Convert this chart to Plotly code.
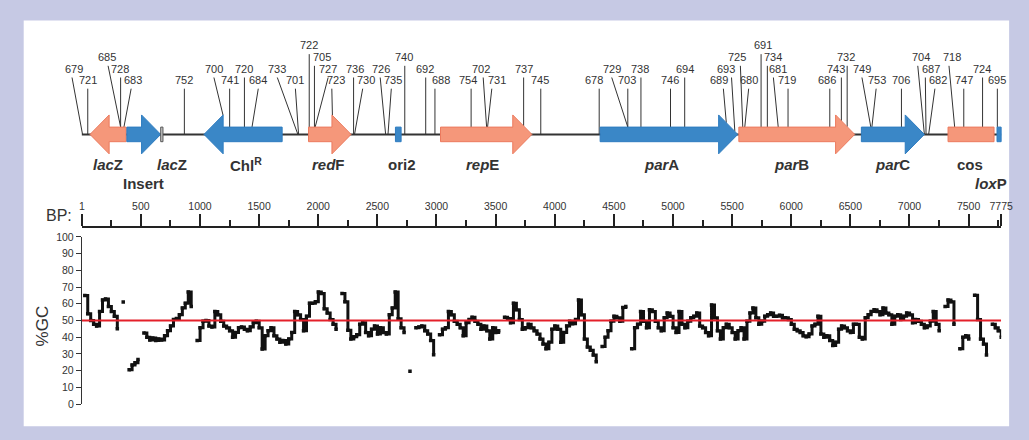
import plotly.graph_objects as go

# ---------------- data ----------------
GENE_NAMES = ["<i>lac</i>Z", "Insert", "<i>lac</i>Z", "Chl<sup>R</sup>", "<i>red</i>F", "ori2",
              "<i>rep</i>E", "<i>par</i>A", "<i>par</i>B", "<i>par</i>C", "cos", "<i>lox</i>P"]
GENE_START = [70, 382, 668, 1034, 1918, 2653, 3034, 4384, 5557, 6593, 7326, 7740]
GENE_END = [376, 668, 687, 1695, 2278, 2701, 3807, 5548, 6537, 7126, 7715, 7775]
GENE_DIR = [-1, 1, 0, -1, 1, 0, 1, 1, 1, 1, 0, 0]
GENE_KIND = ["salmon", "blue", "gray", "blue", "salmon", "blue",
             "salmon", "blue", "salmon", "blue", "salmon", "blue"]
GENE_LABEL_BP = [223, 526, 765, 1390, 2084, 2709, 3390, 4901, 6001, 6859, 7515, 7693]
GENE_LABEL_ROW = [0, 1, 0, 0, 0, 0, 0, 0, 0, 0, 0, 1]

MARKER_ID = ["679", "721", "685", "728", "683", "752", "700", "741", "720", "684", "733", "701",
             "722", "705", "727", "723", "736", "730", "726", "735", "740", "692", "688", "754",
             "702", "731", "737", "745", "678", "729", "703", "738", "746", "694", "689", "693",
             "725", "680", "691", "734", "681", "719", "686", "743", "732", "749", "753", "706",
             "704", "687", "682", "718", "747", "724", "695"]
MARKER_ROW = [3, 4, 2, 3, 4, 4, 3, 4, 3, 4, 3, 4,
              1, 2, 3, 4, 3, 4, 3, 4, 2, 3, 4, 4,
              3, 4, 3, 4, 4, 3, 4, 3, 4, 3, 4, 3,
              2, 4, 1, 2, 3, 4, 4, 3, 2, 3, 4, 4,
              2, 3, 4, 2, 4, 3, 4]
MARKER_LABEL_BP = [-68, 57, 218, 320, 432, 868, 1118, 1251, 1376, 1493, 1654, 1807,
                   1924, 2029, 2084, 2154, 2307, 2404, 2529, 2634, 2724, 2904, 3034, 3265,
                   3376, 3515, 3737, 3876, 4334, 4487, 4612, 4724, 4974, 5099, 5390, 5445,
                   5543, 5645, 5765, 5843, 5884, 5968, 6301, 6382, 6459, 6598, 6729, 6932,
                   7099, 7182, 7237, 7362, 7459, 7612, 7737]
MARKER_TOP_BP = [-82, 51, 223, 329, 418, 868, 1118, 1251, 1376, 1493, 1654, 1807,
                 1924, 1968, 2084, 2115, 2299, 2376, 2524, 2618, 2732, 2909, 2987, 3293,
                 3395, 3468, 3737, 3882, 4376, 4482, 4618, 4729, 4979, 5099, 5426, 5495,
                 5570, 5640, 5745, 5798, 5849, 5973, 6326, 6424, 6473, 6598, 6718, 6932,
                 7070, 7134, 7215, 7334, 7459, 7618, 7743]
MARKER_SITE_BP = [7, 51, 329, 329, 357, 868, 1195, 1251, 1376, 1440, 1828, 1834,
                  1924, 1968, 1974, 2120, 2299, 2307, 2570, 2590, 2732, 2909, 2987, 3293,
                  3424, 3432, 3737, 3882, 4376, 4618, 4618, 4729, 4979, 5099, 5451, 5523,
                  5590, 5607, 5745, 5798, 5890, 5973, 6326, 6424, 6473, 6673, 6682, 6932,
                  7126, 7140, 7162, 7382, 7459, 7618, 7743]

BP_TICKS = [1, 500, 1000, 1500, 2000, 2500, 3000, 3500, 4000, 4500, 5000, 5500, 6000,
            6500, 7000, 7500, 7775]
BP_MINOR = [250, 750, 1250, 1750, 2250, 2750, 3250, 3750, 4250, 4750, 5250, 5750, 6250,
            6750, 7250, 7750]
GC_TICKS = [0, 10, 20, 30, 40, 50, 60, 70, 80, 90, 100]
GC_MEAN = 50

GC_START = 1
GC_STEP = 25
N = None
GC_VALUES = [
    N, 65, 54, 50, 47.7, 46.7, 55.4, 62.2, 62.8, 58.3, 55.4, 52.5, 45, N, 61, N,
    20.5, 23.4, 24.8, 26.7, N, 42.5, 40, 38.4, 39.5, 38, 39, 38.4, 40.9, 43.8, 46.7, 50.6,
    51.2, 53.5, 57.4, 60.3, 67, 58.3, N, 38, 45.7, 49.6, 50, 46.7, 46.1, 55.4, 53.5, 49.6,
    46.7, 45.7, 43.8, 40, 42.8, 45.7, 46.1, 44.8, 43.8, 46.1, 48.6, 49.6, 45.7, 33, 40.9, 43.8,
    45.7, 40.9, 39, 37, 38, 36, 39, 42.8, 55.4, 53.5, 50.6, 43.8, 52.5, 60.3, 60.3, 61.2,
    67, 66.1, 57, 54.5, 50.6, 47.7, 44.8, N, 66.1, 61.2, 44.2, 39, 40.3, 41.5, 47.7, 48.6,
    42.8, 40.9, 44.8, 46.7, 41.9, 45.7, 42.8, 41.9, 53.5, 57.4, 67, 51, 45.7, 42.8, N, 19.6,
    N, 45.7, 46.1, 46.7, 43.8, 41.9, 38, 29.5, N, 41.5, 44.8, 45.7, 55.4, 53.5, 49.6, 47.7,
    45.7, 40.9, 48.6, 50.6, 51.9, 49.6, 47.7, 44.8, 46.7, 43.8, 39, 45.7, 42.8, 43.8, N, 51.9,
    51.2, 48.6, 60.3, 56.4, 50.6, 44.8, 45.7, 47.7, 45.7, 43.8, 41.9, 39, 36, 33.1, 37, 44.8,
    46.7, 44.8, 37, 42.8, 46.7, 49.6, 48.1, 50.6, 62.2, 53.5, 39, 34.1, 32.2, 29.3, 25.4, N,
    34.5, 40, 43.8, 49.6, 52.5, 51.6, 49.6, 57.8, 58.3, N, 33.1, 45.7, 47.7, 55.4, 49.6, 45.7,
    56.4, 55.4, 49.6, 45.7, 43.8, 51.6, 54.5, 52.5, 45.7, 42.8, 55.4, 47.7, 45.7, 49.6, 51.6, 52.5,
    54.5, 46.7, 45.7, 42.8, 40.9, 59.3, 51.6, 43.8, 39, 45.7, 47.7, 45.7, 42.8, 39, 43.8, 45.7,
    39, 49.6, 54.5, 57.4, 51.6, 47.7, 49.6, 52.5, 53.5, 54.5, 52.5, 52.5, 53.1, 51.6, 51.6, 50.6,
    47.7, 44.8, 43.8, 42.8, 40.9, 40.3, 41.9, 46.7, 47.7, 52.5, 41.9, 40, 40.9, 38, 35.1, 37,
    44.8, 46.7, 45.7, 43.8, 42.8, 47.7, 47.7, 40, 39, 51.6, 53.5, 55.4, 56.4, 55.4, 53.5, 57.4,
    54.5, 53.5, 47.7, 52.5, 53.5, 50.6, 52.5, 54.5, 53.5, 48.6, 50.6, 49.6, 47.7, 45.7, 46.7, 49.6,
    55.4, 47.7, 43.8, N, 58.3, 62.2, 61.2, 47.7, N, 33.1, 40, 40.9, 39, N, 65.1, 50.6,
    39, 36, 29.3, N, 47.7, 45.7, 43.8, 40,
]
GC_BP = [GC_START + GC_STEP * i for i in range(len(GC_VALUES))]

# ---------------- style ----------------
FONT = "Liberation Sans, Arial, Helvetica, sans-serif"
TXT = "#333333"
W, H = 1029, 440
PX0, PX1 = 80.0, 1012.9            # pixel positions of bp 1 and bp 7775
BP_MIN, BP_MAX = 1, 7775
K = (PX1 - PX0) / (BP_MAX - BP_MIN)
X2_RANGE = [BP_MIN - PX0 / K, BP_MIN + (W - PX0) / K]

MAP_Y = 132.0      # backbone (pixel y in map axis)
BODY = 7.5
HEAD = 20.0
HEAD_LEN = 162
ROW_Y = {1: 44.0, 2: 56.0, 3: 68.0, 4: 79.5}
TEXT_NUDGE = -3.5  # annotation box centre vs. visual digit centre
FILL = {"salmon": "#f5977a", "blue": "#3a87c7", "gray": "#c9c9c9"}
EDGE = {"salmon": "#ec7a5e", "blue": "#2e7cc0", "gray": "#555555"}

fig = go.Figure()

# ---- GC content panel ----
fig.add_trace(go.Scatter(
    x=GC_BP, y=GC_VALUES, mode="lines+markers", xaxis="x", yaxis="y",
    line=dict(color="#111111", width=3, shape="hv"),
    marker=dict(symbol="square", size=3.5, color="#111111"),
    connectgaps=False, hoverinfo="skip", showlegend=False))
fig.add_trace(go.Scatter(
    x=[BP_MIN, BP_MAX], y=[GC_MEAN, GC_MEAN], mode="lines", xaxis="x", yaxis="y",
    line=dict(color="#e4202a", width=2), hoverinfo="skip", showlegend=False))

# ---- gene map ----
fig.add_trace(go.Scatter(
    x=[BP_MIN, BP_MAX], y=[MAP_Y, MAP_Y], mode="lines", xaxis="x2", yaxis="y2",
    line=dict(color="#333333", width=2), hoverinfo="skip", showlegend=False))


def top_at(bp):
    """pixel y of the top edge of the map drawing at position bp"""
    for s, e, d in zip(GENE_START, GENE_END, GENE_DIR):
        if s <= bp <= e:
            hl = min(HEAD_LEN, e - s)
            if d == 1 and bp > e - hl:
                return MAP_Y - HEAD * (e - bp) / hl
            if d == -1 and bp < s + hl:
                return MAP_Y - HEAD * (bp - s) / hl
            return MAP_Y - BODY
    return MAP_Y


lx, ly = [], []
for row, top, site in zip(MARKER_ROW, MARKER_TOP_BP, MARKER_SITE_BP):
    lx += [top, site, None]
    ly += [ROW_Y[row] + 5.5, top_at(site), None]
fig.add_trace(go.Scatter(
    x=lx, y=ly, mode="lines", xaxis="x2", yaxis="y2",
    line=dict(color="#333333", width=1), hoverinfo="skip", showlegend=False))

for s, e, d, kind in zip(GENE_START, GENE_END, GENE_DIR, GENE_KIND):
    hl = min(HEAD_LEN, e - s)
    if d == 1:
        xs = [s, e - hl, e - hl, e, e - hl, e - hl, s, s]
        ys = [MAP_Y - BODY, MAP_Y - BODY, MAP_Y - HEAD, MAP_Y, MAP_Y + HEAD, MAP_Y + BODY,
              MAP_Y + BODY, MAP_Y - BODY]
    elif d == -1:
        xs = [e, s + hl, s + hl, s, s + hl, s + hl, e, e]
        ys = [MAP_Y - BODY, MAP_Y - BODY, MAP_Y - HEAD, MAP_Y, MAP_Y + HEAD, MAP_Y + BODY,
              MAP_Y + BODY, MAP_Y - BODY]
    else:
        xs = [s, e, e, s, s]
        ys = [MAP_Y - BODY, MAP_Y - BODY, MAP_Y + BODY, MAP_Y + BODY, MAP_Y - BODY]
    fig.add_trace(go.Scatter(
        x=xs, y=ys, mode="lines", fill="toself", fillcolor=FILL[kind], xaxis="x2", yaxis="y2",
        line=dict(color=EDGE[kind], width=1), hoverinfo="skip", showlegend=False))

annotations = []
for name, bp, row in zip(GENE_NAMES, GENE_LABEL_BP, GENE_LABEL_ROW):
    annotations.append(dict(
        x=bp, y=163 + 19 * row, xref="x2", yref="y2", text="<b>" + name + "</b>",
        showarrow=False, xanchor="center", yanchor="middle",
        font=dict(family=FONT, size=15, color=TXT)))
for mid, row, bp in zip(MARKER_ID, MARKER_ROW, MARKER_LABEL_BP):
    annotations.append(dict(
        x=bp, y=ROW_Y[row] + TEXT_NUDGE, xref="x2", yref="y2", text=mid, showarrow=False,
        xanchor="center", yanchor="middle", font=dict(family=FONT, size=11, color=TXT)))
annotations.append(dict(
    x=57 / W, y=1 - 215 / H, xref="paper", yref="paper", text="BP:", showarrow=False,
    xanchor="center", yanchor="middle", font=dict(family=FONT, size=16, color=TXT)))
annotations.append(dict(
    x=40 / W, y=1 - 329 / H, xref="paper", yref="paper", text="%GC", showarrow=False,
    textangle=-90, xanchor="center", yanchor="middle",
    font=dict(family=FONT, size=17, color=TXT)))

fig.update_layout(
    width=W, height=H, autosize=False,
    margin=dict(l=0, r=0, t=0, b=0),
    paper_bgcolor="#c6c9e4", plot_bgcolor="rgba(0,0,0,0)",
    showlegend=False,
    font=dict(family=FONT, color=TXT),
    shapes=[dict(type="rect", xref="paper", yref="paper", x0=21 / W, x1=1021 / W,
                 y0=1 - 432 / H, y1=1 - 15 / H, fillcolor="white", line=dict(width=0),
                 layer="below")],
    annotations=annotations,
    xaxis=dict(
        domain=[PX0 / W, PX1 / W], range=[BP_MIN, BP_MAX], anchor="free",
        position=1 - 227.7 / H, side="top", showline=True, linecolor="#222222", linewidth=2,
        ticks="outside", ticklen=12, tickwidth=2, tickcolor="#222222",
        tickvals=BP_TICKS, ticktext=[str(v) for v in BP_TICKS],
        tickfont=dict(family=FONT, size=10.5, color=TXT),
        minor=dict(tickvals=BP_MINOR, ticks="outside", ticklen=6, tickwidth=2,
                   tickcolor="#222222", showgrid=False),
        showgrid=False, zeroline=False, fixedrange=True),
    yaxis=dict(
        domain=[1 - 409.3 / H, 1 - 237.3 / H], range=[0, 100], anchor="x",
        showline=True, linecolor="#333333", linewidth=1, ticks="outside", ticklen=5,
        tickwidth=1, tickcolor="#333333", tickvals=GC_TICKS,
        tickfont=dict(family=FONT, size=10.5, color=TXT),
        showgrid=False, zeroline=False, fixedrange=True),
    xaxis2=dict(domain=[0, 1], range=X2_RANGE, anchor="y2", visible=False, fixedrange=True),
    yaxis2=dict(domain=[0, 1], range=[H, 0], anchor="x2", visible=False, fixedrange=True),
)

fig.write_html(
    "out.html",
    config={"displayModeBar": False, "staticPlot": True},
    post_script="document.body.style.margin='0';document.body.style.padding='0';"
                "document.documentElement.style.overflow='hidden';",
)
